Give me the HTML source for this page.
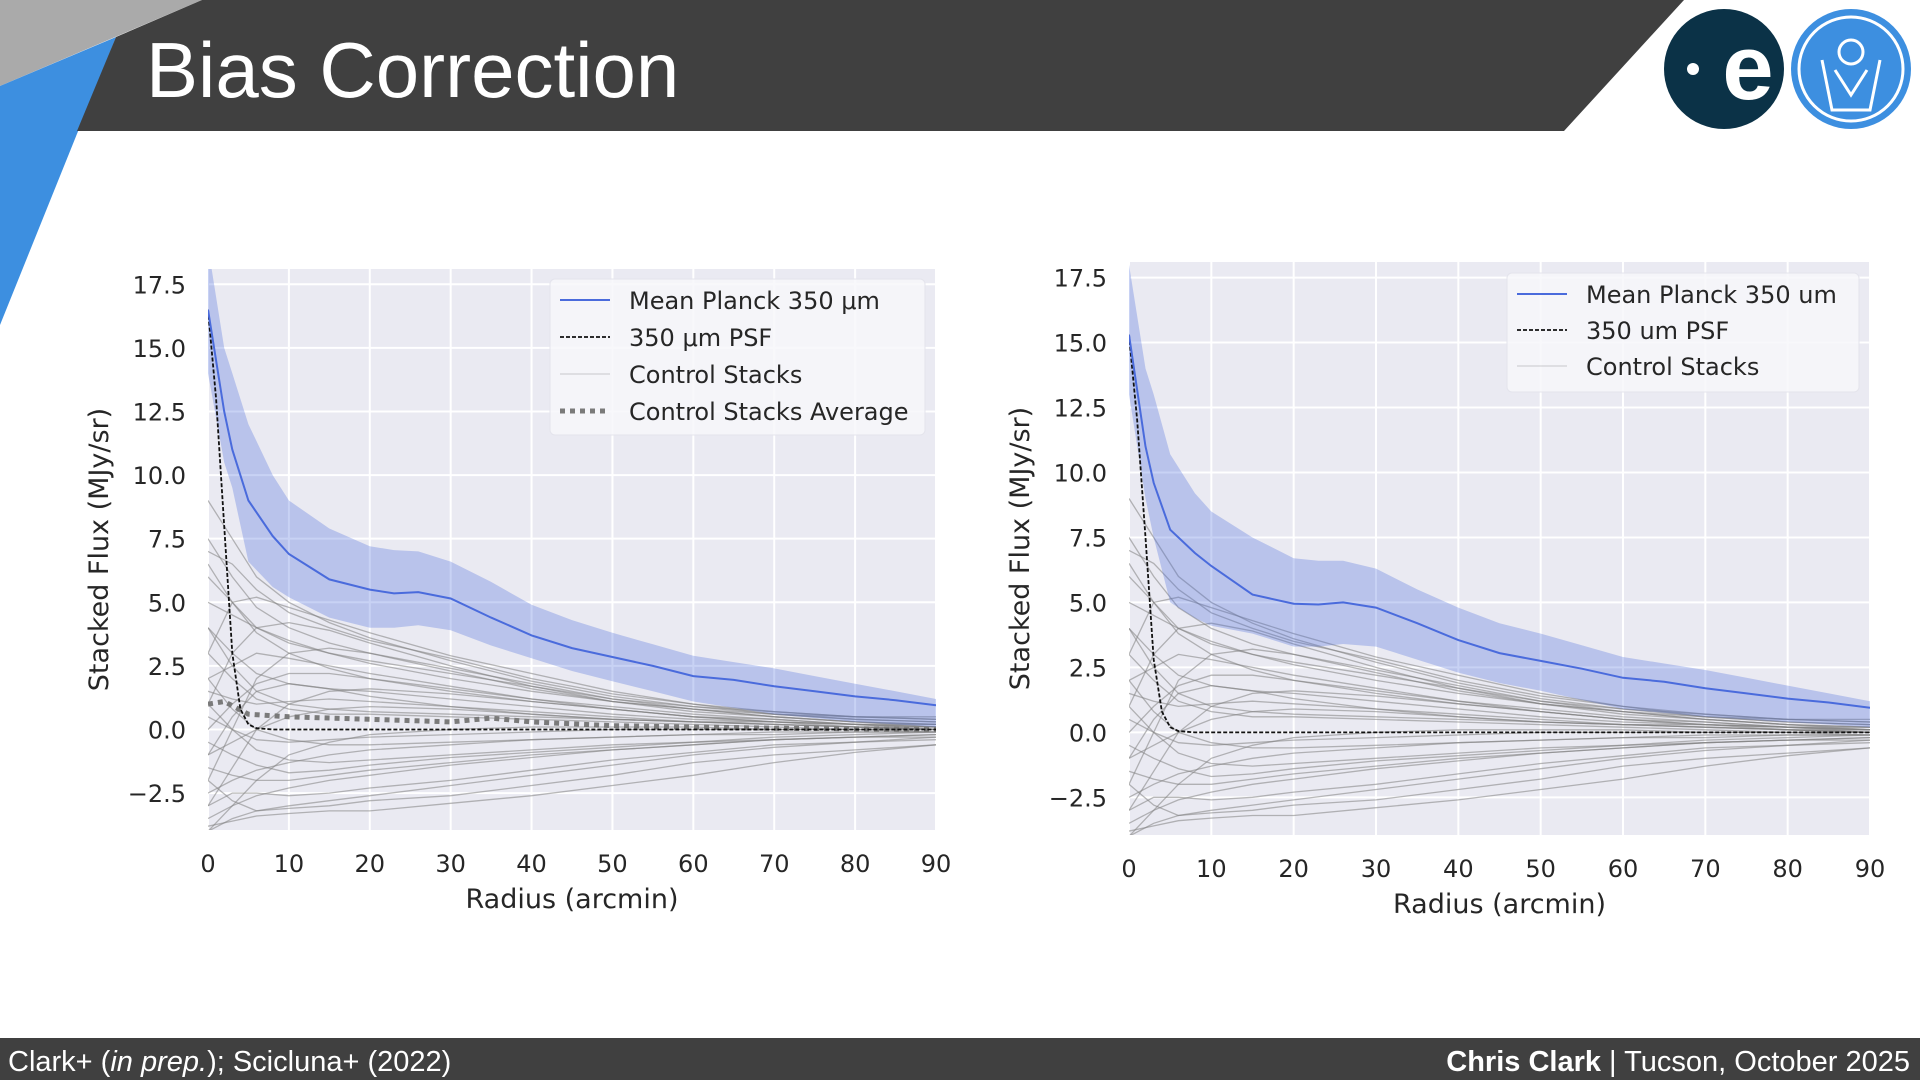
<!DOCTYPE html>
<html><head><meta charset="utf-8"><style>
html,body{margin:0;padding:0;width:1920px;height:1080px;overflow:hidden;background:#fff;font-family:"DejaVu Sans","Liberation Sans",sans-serif}
svg{position:absolute;left:0;top:0}
</style></head><body>
<svg id="slide" width="1920" height="1080" viewBox="0 0 1920 1080">
 <polygon points="0,0 202,0 0,86" fill="#aaaaaa"/>
 <polygon points="0,86 116,37 0,325" fill="#3d8fe0"/>
 <polygon points="202,0 1684,0 1564,131 77,131 116,37" fill="#404040"/>
 <text x="146" y="97" font-family="Liberation Sans, sans-serif" font-size="78" fill="#fff">Bias Correction</text>
 <g>
  <circle cx="1724" cy="69" r="60" fill="#0b3247"/>
  <circle cx="1693" cy="69" r="6" fill="#fff"/>
  <text x="1748" y="99" text-anchor="middle" font-family="Liberation Sans, sans-serif" font-weight="bold" font-size="92" fill="#fff">e</text>
 </g>
 <g>
  <circle cx="1851" cy="69" r="60" fill="#3d8fe0"/>
  <circle cx="1851" cy="69" r="52" fill="none" stroke="#fff" stroke-width="3"/>
  <circle cx="1851" cy="52" r="12" fill="none" stroke="#fff" stroke-width="3"/>
  <path d="M1822 60 L1832 110 L1870 110 L1880 60 M1835 70 L1851 95 L1867 70" fill="none" stroke="#fff" stroke-width="3"/>
 </g>
 <rect x="0" y="1038" width="1920" height="42" fill="#404040"/>
 <text x="8" y="1071" font-family="Liberation Sans, sans-serif" font-size="29" fill="#fff">Clark+ (<tspan font-style="italic">in prep.</tspan>); Scicluna+ (2022)</text>
 <text x="1910" y="1071" text-anchor="end" font-family="Liberation Sans, sans-serif" font-size="29" fill="#fff"><tspan font-weight="bold">Chris Clark</tspan> | Tucson, October 2025</text>
 <g id="chartL"></g>
 <g id="chartR"></g>
</svg>
<script>
const xTicks=[0,10,20,30,40,50,60,70,80,90];
const yTicks=[-2.5,0,2.5,5,7.5,10,12.5,15,17.5];
const yTickLabels=["\u22122.5","0.0","2.5","5.0","7.5","10.0","12.5","15.0","17.5"];
const meanX=[0,2,3,5,8,10,15,20,23,26,30,35,40,45,50,55,60,65,70,75,80,85,90];
const meanL=[16.5,12.5,11,9,7.6,6.9,5.9,5.5,5.35,5.4,5.15,4.4,3.7,3.2,2.85,2.5,2.1,1.95,1.7,1.5,1.3,1.15,0.95];
const upperL=[19,15,14,12,10,9,7.9,7.2,7.05,7,6.6,5.8,4.9,4.3,3.8,3.35,2.9,2.65,2.4,2.1,1.8,1.5,1.2];
const lowerL=[14,10.5,9.5,6.6,5.6,5.2,4.4,4.0,4.0,4.1,3.9,3.3,2.8,2.3,1.9,1.5,1.1,0.85,0.6,0.45,0.3,0.2,0.1];
const meanR=[15.3,11,9.6,7.8,6.9,6.4,5.3,4.95,4.92,5.0,4.8,4.2,3.55,3.05,2.75,2.45,2.1,1.95,1.7,1.5,1.3,1.15,0.95];
const upperR=[18,14,13,10.7,9.2,8.5,7.5,6.7,6.6,6.6,6.3,5.5,4.8,4.2,3.8,3.35,2.9,2.65,2.4,2.1,1.8,1.5,1.2];
const lowerR=[13,9,7.5,5.0,4.4,4.1,3.8,3.3,3.3,3.4,3.3,2.8,2.3,1.9,1.6,1.25,0.9,0.75,0.6,0.5,0.4,0.3,0.2];
const psfX=[0,1,2,3,4,5,6,8,90];
const psfL=[16.5,13,8,3,0.8,0.2,0.05,0,0];
const psfR=[15.3,12,7.5,2.8,0.8,0.2,0.05,0,0];
const avgX=[0,2,5,10,20,30,35,40,50,60,70,90];
const avgL=[1.0,1.1,0.6,0.5,0.4,0.3,0.45,0.3,0.15,0.1,0.05,0];
const ctrlX=[0,3,6,10,15,20,30,40,50,60,70,80,90];
const ctrl=[
[9,7.5,6,5,4.2,3.6,2.7,1.9,1.3,0.9,0.6,0.4,0.3],
[7,6.5,5.5,4.6,4,3.5,2.8,2,1.4,1,0.7,0.5,0.4],
[3,5,5.2,4.8,4.3,3.8,2.9,2.2,1.5,1,0.6,0.4,0.3],
[1,3,4,4.2,3.9,3.4,2.5,1.7,1.1,0.7,0.5,0.3,0.2],
[5,4.5,4,3.5,3,2.6,2,1.5,1.1,0.8,0.5,0.3,0.2],
[-2,0,2,3,3.2,3,2.4,1.8,1.2,0.8,0.5,0.3,0.1],
[2,2.5,3,2.8,2.5,2.2,1.7,1.2,0.9,0.6,0.4,0.2,0.1],
[6,5,3.8,3,2.4,2,1.5,1.1,0.8,0.5,0.4,0.2,0.1],
[0,1,1.8,2.2,2.2,2,1.6,1.2,0.8,0.5,0.3,0.2,0.1],
[-3,-1.5,0,1,1.5,1.6,1.4,1.1,0.8,0.5,0.3,0.2,0],
[4,3,2.2,1.8,1.6,1.5,1.2,0.9,0.6,0.4,0.3,0.1,0],
[1.5,1.2,1,1.1,1.2,1.1,0.9,0.7,0.5,0.3,0.2,0.1,0],
[-1,-0.5,0,0.5,0.8,0.9,0.8,0.6,0.4,0.3,0.2,0.1,0],
[3,2,1.2,0.8,0.6,0.6,0.5,0.4,0.3,0.2,0.1,0,0],
[-4,-3,-2,-1,-0.5,-0.2,0,0.1,0.1,0.1,0,0,0],
[0.5,0,-0.4,-0.5,-0.4,-0.3,-0.2,-0.1,0,0,0,0,-0.1],
[-2.5,-2,-1.6,-1.3,-1,-0.8,-0.6,-0.4,-0.3,-0.2,-0.1,-0.1,-0.1],
[-3.5,-3,-2.6,-2.3,-2,-1.8,-1.4,-1.1,-0.8,-0.6,-0.4,-0.3,-0.2],
[-1.5,-1.8,-2,-2,-1.8,-1.6,-1.3,-1,-0.8,-0.6,-0.4,-0.3,-0.2],
[-4,-3.5,-3.2,-3,-2.8,-2.6,-2.2,-1.8,-1.4,-1,-0.7,-0.5,-0.3],
[1,0,-0.8,-1.2,-1.3,-1.2,-1,-0.8,-0.6,-0.5,-0.3,-0.2,-0.1],
[-3,-2.5,-2.5,-2.6,-2.5,-2.3,-2,-1.6,-1.2,-0.9,-0.6,-0.5,-0.4],
[-2,-2.8,-3.2,-3.1,-3,-2.8,-2.6,-2.2,-1.8,-1.3,-1,-0.8,-0.6],
[2,0.8,0,-0.4,-0.6,-0.6,-0.5,-0.4,-0.3,-0.2,-0.2,-0.1,-0.1],
[-0.5,-1,-1.4,-1.7,-1.6,-1.4,-1.1,-0.9,-0.7,-0.5,-0.4,-0.3,-0.3],
[-3.8,-3.6,-3.4,-3.3,-3.2,-3.2,-2.9,-2.6,-2.2,-1.8,-1.3,-0.9,-0.6],
[4,2.5,1.5,1,0.8,0.7,0.6,0.5,0.4,0.3,0.3,0.2,0.2],
[6.5,5,4,3.4,3,2.7,2.2,1.7,1.2,0.9,0.7,0.5,0.4],
[-1,0.5,1.5,1.8,1.6,1.3,0.9,0.6,0.4,0.3,0.2,0.1,0.1],
[7.5,6,4.8,4,3.4,3,2.3,1.6,1.1,0.8,0.6,0.5,0.5]
];
const NS="http://www.w3.org/2000/svg";
function mk(tag,attrs,parent){const e=document.createElementNS(NS,tag);for(const k in attrs)e.setAttribute(k,attrs[k]);parent.appendChild(e);return e;}
function draw(g,o){
  const xmin=0,xmax=90,ymin=-3.95,ymax=18.1;
  const X=v=>o.l+(v-xmin)/(xmax-xmin)*(o.r-o.l);
  const Y=v=>o.b-(v-ymin)/(ymax-ymin)*(o.b-o.t);
  const bg=mk('rect',{x:o.l,y:o.t,width:o.r-o.l,height:o.b-o.t,fill:'#eaeaf2'},g);
  
  
  xTicks.forEach(t=>{
    const ln=mk('line',{x1:X(t),x2:X(t),y1:o.t,y2:o.b,stroke:'#fff','stroke-width':2},g);
    
    
    const tx=mk('text',{x:X(t),y:o.b+42,'text-anchor':'middle','font-size':24,fill:'#262626'},g);
    tx.textContent=t;
    
    
  });
  yTicks.forEach((t,i)=>{
    const ln=mk('line',{x1:o.l,x2:o.r,y1:Y(t),y2:Y(t),stroke:'#fff','stroke-width':2},g);
    
    
    const tx=mk('text',{x:o.l-22,y:Y(t)+9,'text-anchor':'end','font-size':24,fill:'#262626'},g);
    tx.textContent=yTickLabels[i];
    
    
  });
  const cid='clip'+o.id;
  const cp=mk('clipPath',{id:cid},g);mk('rect',{x:o.l,y:o.t,width:o.r-o.l,height:o.b-o.t},cp);
  const pg=mk('g',{'clip-path':'url(#'+cid+')'},g);
  const path=(xs,ys)=>xs.map((x,i)=>(i?'L':'M')+X(x).toFixed(1)+' '+Y(ys[i]).toFixed(1)).join(' ');
  ctrl.forEach(s=>{
    const p=mk('path',{d:path(ctrlX,s),fill:'none',stroke:'#808080','stroke-opacity':0.55,'stroke-width':1.3},pg);
    
    
  });
  const up=o.upper,lo=o.lower;
  let d=meanX.map((x,i)=>(i?'L':'M')+X(x).toFixed(1)+' '+Y(up[i]).toFixed(1)).join(' ');
  for(let i=meanX.length-1;i>=0;i--)d+=' L'+X(meanX[i]).toFixed(1)+' '+Y(lo[i]).toFixed(1);
  const band=mk('path',{d:d+' Z',fill:'#4a6bdc','fill-opacity':0.3,stroke:'none'},pg);
  
  
  if(o.avg){
    const a=mk('path',{d:path(avgX,o.avg),fill:'none',stroke:'#7a7a7a','stroke-width':5,'stroke-dasharray':'5 5'},pg);
    
    
  }
  const ps=mk('path',{d:path(psfX,o.psf),fill:'none',stroke:'#111','stroke-width':1.8,'stroke-dasharray':'4 2'},pg);
  
  
  const m=mk('path',{d:path(meanX,o.mean),fill:'none',stroke:'#4a6bdc','stroke-width':2},pg);
  
  
  const xl=mk('text',{x:(o.l+o.r)/2,y:o.b+78,'text-anchor':'middle','font-size':27,fill:'#262626'},g);
  xl.textContent='Radius (arcmin)';
  
  
  const yl=mk('text',{x:0,y:0,'text-anchor':'middle','font-size':27,fill:'#262626',transform:'translate('+(o.l-100)+','+((o.t+o.b)/2)+') rotate(-90)'},g);
  yl.textContent='Stacked Flux (MJy/sr)';
  
  
  const L=o.leg;
  const lg=mk('g',{},g);
  
  
  mk('rect',{x:L.x,y:L.y,width:L.w,height:L.h,rx:5,fill:'#f7f7fa','fill-opacity':0.85,stroke:'#e4e4ec'},lg);
  L.items.forEach((it,i)=>{
    const yy=L.y0+i*L.dy;
    const e=mk('g',{},lg);
    
    
    mk('line',{x1:L.x+10,x2:L.x+60,y1:yy,y2:yy,stroke:it.c,'stroke-width':it.w,'stroke-dasharray':it.dash||'none','stroke-opacity':it.op||1},e);
    const t=mk('text',{x:L.x+79,y:yy+9,'font-size':24,fill:'#262626'},e);
    t.textContent=it.t;
  });
}
draw(document.getElementById('chartL'),{id:'L',l:208,r:936,t:269,b:830,mean:meanL,upper:upperL,lower:lowerL,psf:psfL,avg:avgL,
 leg:{x:550,y:279,w:375,h:156,y0:300,dy:37,items:[
  {t:'Mean Planck 350 \u03bcm',c:'#4a6bdc',w:2},{t:'350 \u03bcm PSF',c:'#111',w:1.8,dash:'4 2'},
  {t:'Control Stacks',c:'#808080',w:1.3,op:0.3},{t:'Control Stacks Average',c:'#7a7a7a',w:5,dash:'5 5'}]}});
draw(document.getElementById('chartR'),{id:'R',l:1129,r:1870,t:262,b:835,mean:meanR,upper:upperR,lower:lowerR,psf:psfR,avg:null,
 leg:{x:1507,y:273,w:352,h:119,y0:294,dy:36,items:[
  {t:'Mean Planck 350 um',c:'#4a6bdc',w:2},{t:'350 um PSF',c:'#111',w:1.8,dash:'4 2'},
  {t:'Control Stacks',c:'#808080',w:1.3,op:0.3}]}});
</script>
</body></html>
